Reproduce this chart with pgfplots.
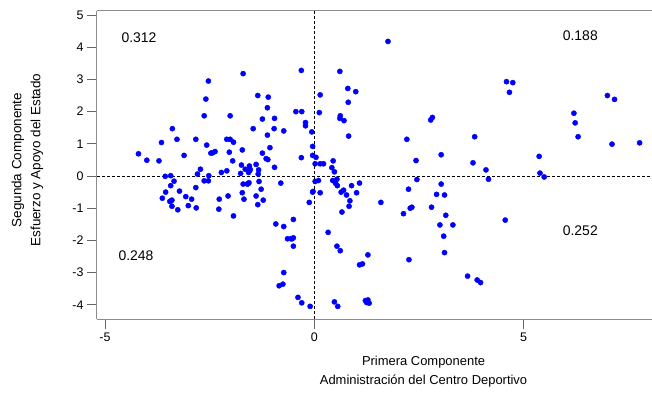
\documentclass[border=0pt]{standalone}
\usepackage{fontspec}
\setmainfont{Liberation Sans}
\usepackage{pgfplots}
\pgfplotsset{compat=1.18}
\begin{document}
\begin{tikzpicture}
\begin{axis}[
  scale only axis, width=555bp, height=308bp,
  xmin=-5.19, xmax=8.065, ymin=-4.442, ymax=5.126,
  axis x line=box, axis y line=left,
  axis line style={-, black!45, line width=1bp},
  every outer y axis line/.append style={-},
  every outer x axis line/.append style={-},
  xtick={-5,0,5}, ytick={-4,-3,-2,-1,0,1,2,3,4,5},
  xtick pos=bottom, ytick pos=left,
  tick align=outside, major tick length=10bp,
  tick style={black!60, line width=0.8bp},
  /pgf/number format/assume math mode=true,
  ticklabel style={font=\fontsize{12.5}{14}\selectfont},
  xlabel={Primera Componente\\Administración del Centro Deportivo},
  ylabel={Segunda Componente\\Esfuerzo y Apoyo del Estado},
  xlabel style={align=center, font=\fontsize{13}{19}\selectfont, at={(axis description cs:0.5884,-0.1705)}, anchor=center},
  ylabel style={align=center, font=\fontsize{13.5}{19}\selectfont, at={(axis description cs:-0.1255,0.516)}, anchor=center},
  clip=false,
]
\addplot[black, line width=0.6bp, dash pattern=on 3bp off 2bp, forget plot] coordinates {(0,-4.442) (0,5.126)};
\addplot[black, line width=0.6bp, dash pattern=on 3bp off 2bp, forget plot] coordinates {(-5.19,0) (8.065,0)};
\addplot[only marks, mark=*, mark size=2.6bp, color=blue, mark options={fill=blue, draw=blue}] table {
X Y
-4.20 0.69
-4.00 0.49
-3.71 0.47
-3.65 1.04
-3.39 1.47
-3.28 1.14
-3.11 0.64
-2.83 1.14
-2.63 1.87
-2.59 2.39
-2.53 2.95
-2.57 0.96
-2.47 0.71
-2.37 0.76
-2.43 0.72
-2.09 1.14
-2.01 1.14
-1.93 1.05
-2.01 1.87
-2.03 0.74
-1.95 0.47
-1.70 3.18
-1.72 0.81
-1.46 1.47
-1.35 2.50
-1.10 2.45
-1.12 2.12
-1.24 1.77
-0.95 1.79
-0.96 1.47
-1.12 1.27
-1.06 0.88
-1.24 0.71
-1.15 0.54
-1.11 0.51
-0.95 0.27
-1.39 0.36
-1.74 0.34
-1.65 0.21
-1.55 0.31
-1.53 0.20
-1.55 0.16
-1.57 0.11
-1.33 0.19
-1.34 0.06
-1.76 0.08
-2.22 0.11
-2.09 0.16
-2.79 0.06
-2.72 0.21
-2.52 0.01
-3.56 -0.01
-3.43 0.01
-0.73 1.40
-3.35 -0.16
-3.43 -0.30
-3.55 -0.50
-3.22 -0.47
-3.63 -0.69
-3.45 -0.79
-3.40 -0.75
-3.42 -0.77
-3.40 -0.94
-3.26 -1.05
-3.07 -0.64
-2.93 -0.72
-3.01 -0.92
-2.82 -0.99
-2.83 -0.36
-2.63 -0.15
-2.53 -0.15
-2.27 -0.72
-2.28 -1.03
-2.06 -0.62
-1.93 -1.24
-1.70 -0.25
-1.60 -0.25
-1.58 -0.24
-1.56 -0.21
-1.32 -0.17
-1.27 -0.41
-1.72 -0.52
-1.68 -0.72
-1.39 -0.62
-1.35 -0.89
-1.22 -0.75
-0.92 -1.49
-0.73 -1.57
-0.80 -0.22
-0.84 -3.41
-0.75 -3.36
-0.73 -3.00
-0.31 3.28
0.61 3.25
1.76 4.18
0.80 2.72
0.99 2.62
0.14 2.52
0.81 2.29
0.12 1.97
-0.44 2.00
-0.30 2.00
-0.21 1.66
-0.21 1.56
-0.06 1.37
0.62 1.87
0.61 1.79
0.71 1.72
0.82 1.24
-0.04 0.92
-0.31 0.57
-0.04 0.64
0.04 0.58
0.02 0.38
0.14 0.38
0.22 0.38
0.45 0.47
0.42 0.26
0.48 0.13
0.02 -0.17
0.10 -0.14
0.44 -0.14
0.54 -0.10
0.51 -0.23
0.55 -0.30
-0.04 -0.50
-0.03 -0.48
0.14 -0.52
0.64 -0.50
0.70 -0.44
0.77 -0.59
0.89 -0.30
1.08 -0.22
1.01 -0.52
0.85 -0.77
0.83 -0.94
0.66 -1.12
-0.12 -0.82
1.59 -0.82
-0.50 -1.35
-0.64 -1.95
-0.56 -1.95
-0.53 -1.95
-0.50 -1.92
-0.50 -2.18
0.33 -1.75
0.54 -2.18
0.62 -2.32
1.28 -2.45
1.08 -2.76
1.15 -2.73
-0.39 -3.77
-0.30 -3.94
-0.10 -4.05
0.48 -3.91
0.56 -4.05
1.22 -3.87
1.28 -3.85
1.31 -3.95
1.25 -3.93
1.27 -3.90
2.82 1.82
2.78 1.74
2.21 1.14
3.03 0.66
2.43 0.48
2.45 -0.11
2.25 -0.41
2.29 -1.00
2.33 -0.97
2.13 -1.17
2.80 -0.97
3.03 -0.25
2.92 -0.57
3.11 -0.59
3.14 -1.22
3.00 -1.52
3.31 -1.52
3.09 -1.87
3.11 -2.38
2.26 -2.60
3.66 -3.11
3.89 -3.23
3.97 -3.31
4.56 -1.37
4.59 2.93
4.74 2.90
4.66 2.60
3.83 1.22
3.79 0.41
4.10 0.19
4.16 -0.10
5.37 0.61
5.39 0.09
5.49 -0.03
7.00 2.50
7.17 2.38
6.20 1.95
6.23 1.65
6.30 1.22
7.11 0.99
7.77 1.03
};
\node[font=\fontsize{14}{16}\selectfont] at (axis cs:-4.187,4.287) {0.312};
\node[font=\fontsize{14}{16}\selectfont] at (axis cs:6.353,4.349) {0.188};
\node[font=\fontsize{14}{16}\selectfont] at (axis cs:-4.258,-2.470) {0.248};
\node[font=\fontsize{14}{16}\selectfont] at (axis cs:6.353,-1.709) {0.252};
\end{axis}
\pgfresetboundingbox
\path[use as bounding box] (-97bp,-75bp) rectangle (555bp,319bp);
\end{tikzpicture}
\end{document}
